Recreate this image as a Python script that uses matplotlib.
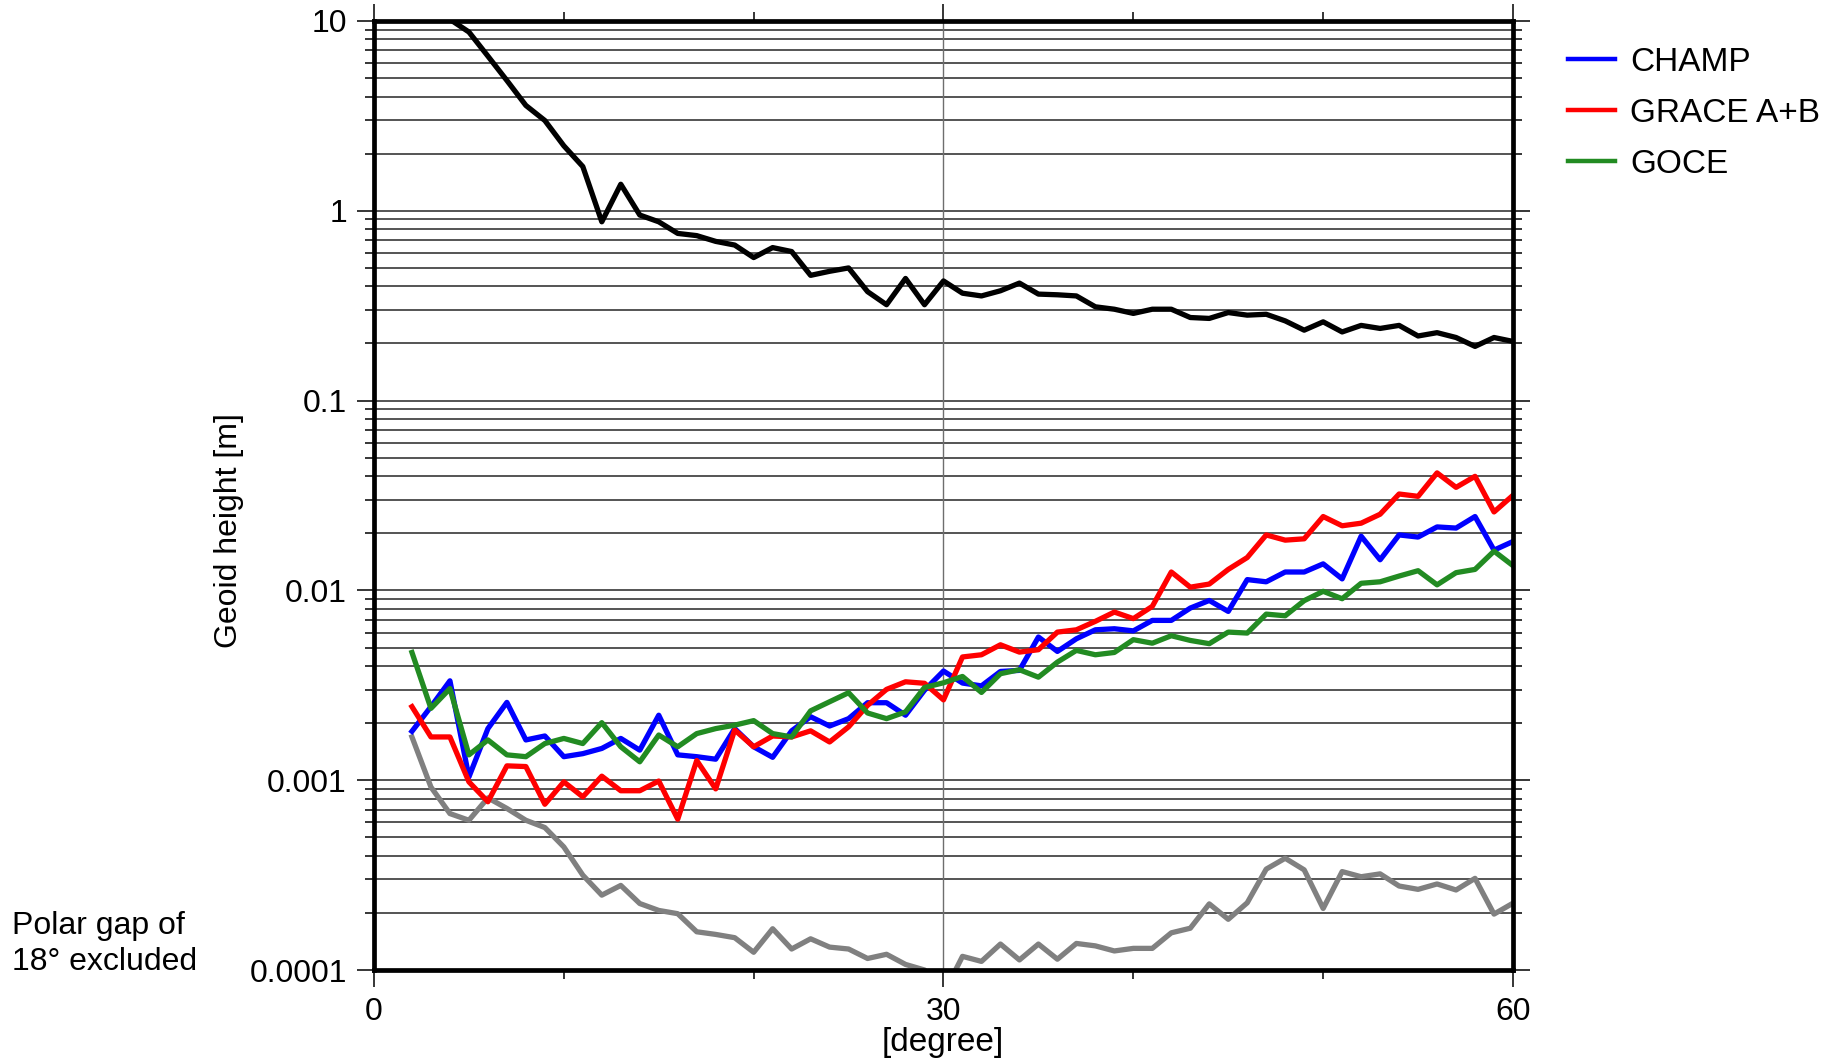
import matplotlib
matplotlib.use("Agg")
import matplotlib.pyplot as plt
import numpy as np
from matplotlib.ticker import FixedLocator, NullFormatter

plt.rcParams['font.family'] = ['Liberation Sans', 'DejaVu Sans']

degrees = list(range(2, 61))

signal = [40.0, 17.0, 10.2, 8.75, 6.53, 4.86, 3.59, 2.99, 2.20, 1.71, 0.875, 1.38, 0.95, 0.875,
          0.76, 0.74, 0.69, 0.66, 0.567, 0.64, 0.61, 0.457, 0.48, 0.50, 0.375, 0.32, 0.44, 0.32,
          0.427, 0.368, 0.356, 0.379, 0.416, 0.364, 0.361, 0.356, 0.312, 0.303, 0.288, 0.303,
          0.303, 0.274, 0.271, 0.291, 0.282, 0.285, 0.263, 0.235, 0.26, 0.23, 0.249, 0.24,
          0.249, 0.219, 0.228, 0.215, 0.193, 0.215, 0.205]

champ = [0.00181, 0.00244, 0.00334, 0.00104, 0.00187, 0.00257, 0.00163, 0.00171, 0.00133,
         0.00138, 0.00147, 0.00166, 0.00144, 0.0022, 0.00136, 0.00133, 0.00129, 0.00187,
         0.0015, 0.00132, 0.00182, 0.00216, 0.00193, 0.00211, 0.00256, 0.00256, 0.0022,
         0.00298, 0.00376, 0.00325, 0.00314, 0.00374, 0.00379, 0.00568, 0.00477, 0.00556,
         0.0062, 0.00628, 0.00612, 0.00695, 0.00695, 0.00807, 0.00885, 0.00775, 0.0114,
         0.0111, 0.0125, 0.0125, 0.0138, 0.0115, 0.0193, 0.0145, 0.0196, 0.0191, 0.0216,
         0.0213, 0.0245, 0.0163, 0.0181]

grace = [0.00244, 0.00169, 0.00169, 0.00098, 0.00077, 0.00119, 0.00118, 0.000747, 0.00098,
         0.000817, 0.00105, 0.00088, 0.00088, 0.00099, 0.000623, 0.00127, 0.00090, 0.00184,
         0.0015, 0.00171, 0.00169, 0.00182, 0.00159, 0.00191, 0.00248, 0.00301, 0.0033,
         0.00324, 0.00265, 0.00446, 0.00458, 0.00517, 0.00473, 0.00487, 0.00603, 0.0062,
         0.00687, 0.00769, 0.0071, 0.00824, 0.0125, 0.0104, 0.0108, 0.0129, 0.0149, 0.0196,
         0.0184, 0.0187, 0.0245, 0.0219, 0.0226, 0.0252, 0.0322, 0.0313, 0.0416, 0.0349,
         0.0399, 0.0259, 0.0317]

goce = [0.00471, 0.00239, 0.00304, 0.00136, 0.00163, 0.00136, 0.00133, 0.00156, 0.00166,
        0.00156, 0.00201, 0.0015, 0.00125, 0.00173, 0.0015, 0.00176, 0.00187, 0.00195,
        0.00206, 0.00176, 0.00169, 0.00232, 0.00259, 0.00289, 0.00226, 0.00211, 0.00229,
        0.00308, 0.00326, 0.00352, 0.0029, 0.00364, 0.00382, 0.00349, 0.00419, 0.00483,
        0.00458, 0.00471, 0.0055, 0.00527, 0.00577, 0.00545, 0.00524, 0.00603, 0.00596,
        0.0075, 0.00735, 0.00883, 0.00989, 0.00904, 0.0109, 0.0111, 0.0119, 0.0127, 0.0107,
        0.0124, 0.0129, 0.0161, 0.0135]

difference = [0.00169, 0.00092, 0.000667, 0.000615, 0.000807, 0.00071, 0.000615, 0.000563,
              0.000445, 0.000316, 0.000248, 0.000279, 0.000224, 0.000206, 0.000198, 0.000159,
              0.000154, 0.000148, 0.000124, 0.000165, 0.000129, 0.000146, 0.000132, 0.000129,
              0.000115, 0.000121, 0.000107, 0.0001, 0.000075, 0.000118, 0.000111, 0.000137,
              0.000113, 0.000137, 0.000114, 0.000138, 0.000134, 0.000126, 0.00013, 0.00013,
              0.000157, 0.000166, 0.000223, 0.000185, 0.000226, 0.00034, 0.000388, 0.000337,
              0.000211, 0.00033, 0.00031, 0.000321, 0.000277, 0.000266, 0.000284, 0.000264,
              0.000304, 0.000197, 0.000225]

ytick_vals = [10, 1, 0.1, 0.01, 0.001, 0.0001]
ytick_labels = ["10", "1", "0.1", "0.01", "0.001", "0.0001"]
xtick_major = [0, 30, 60]
xtick_minor = [10, 20, 40, 50]

fig = plt.figure(figsize=(18.33, 10.61), dpi=100)
ax = fig.add_axes([374/1833, 1 - 970/1061, (1513-374)/1833, (970-21)/1061])

ax.set_yscale('log')
ax.set_xlim(0, 60)
ax.set_ylim(0.0001, 10)

minor_y = [m * 10.0**e for e in range(-4, 1) for m in range(2, 10)]
ax.yaxis.set_major_locator(FixedLocator(ytick_vals))
ax.yaxis.set_minor_locator(FixedLocator(minor_y))
ax.set_yticklabels(ytick_labels)
ax.yaxis.set_minor_formatter(NullFormatter())
ax.xaxis.set_major_locator(FixedLocator(xtick_major))
ax.xaxis.set_minor_locator(FixedLocator(xtick_minor))
ax.set_xticklabels([str(v) for v in xtick_major])

ax.yaxis.grid(True, which='both', color='#262626', lw=1.1, zorder=0)
ax.set_axisbelow(True)
ax.axvline(30, color='#6e6e6e', lw=1.0, zorder=1)

lw = 3.8
ax.plot(degrees, signal, color='black', lw=lw, zorder=3)
ax.plot(degrees, difference, color='#808080', lw=lw, zorder=3)
ax.plot(degrees, champ, color='#0000ff', lw=lw, zorder=4, label='CHAMP')
ax.plot(degrees, grace, color='#ff0000', lw=lw, zorder=4, label='GRACE A+B')
ax.plot(degrees, goce, color='#228b22', lw=lw, zorder=5, label='GOCE')

for s in ax.spines.values():
    s.set_linewidth(3.4)
    s.set_zorder(6)

ax.tick_params(axis='both', which='both', direction='out', top=True, right=True,
               labelsize=23, width=1.1, color='black')
ax.tick_params(axis='both', which='major', length=12.5, pad=7)
ax.tick_params(axis='both', which='minor', length=6.5)

fig.text(229/1833, 1 - 531/1061, 'Geoid height [m]', rotation=90, ha='center', va='center', fontsize=23)
fig.text(943/1833, 1 - 1043/1061, '[degree]', ha='center', va='center', fontsize=24)
fig.text(12/1833, 1 - 944/1061, 'Polar gap of\n18° excluded', ha='left', va='center',
         fontsize=23, linespacing=1.3)

leg = fig.legend(loc='upper left', bbox_to_anchor=(1568/1833, 1 - 47/1061), frameon=False,
                 fontsize=24, handlelength=1.41, handletextpad=0.45, labelspacing=0.6,
                 borderpad=0, borderaxespad=0)
for h in leg.get_lines():
    h.set_linewidth(3.2)

fig.savefig('out.png', dpi=100)
